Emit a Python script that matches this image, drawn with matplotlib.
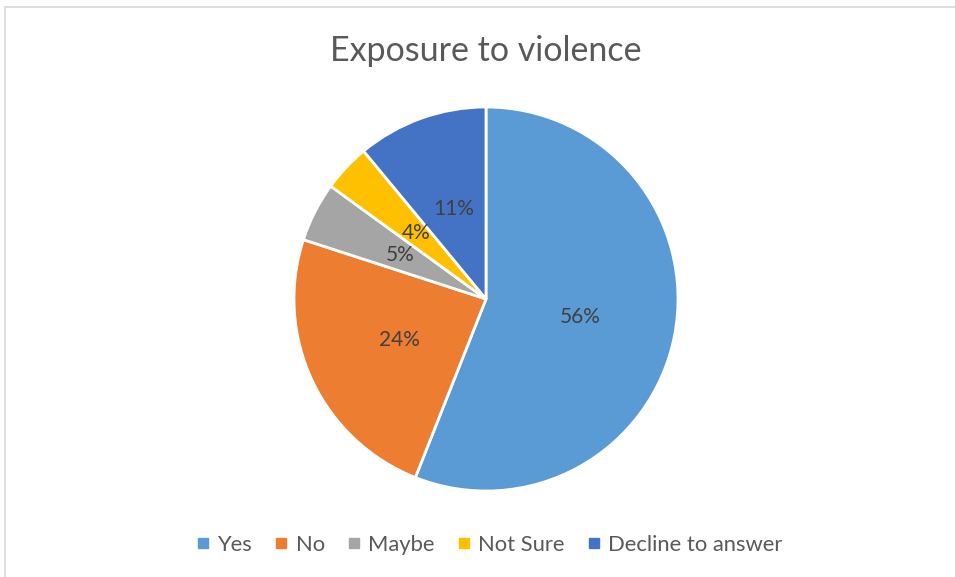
import matplotlib.pyplot as plt
from matplotlib.lines import Line2D
from matplotlib.patches import Rectangle

# data
labels = ["Yes", "No", "Maybe", "Not Sure", "Decline to answer"]
values = [56, 24, 5, 4, 11]
colors = ["#5B9BD5", "#ED7D31", "#A5A5A5", "#FFC000", "#4472C4"]
title = "Exposure to violence"

plt.rcParams['font.family'] = ['Lato', 'DejaVu Sans']

W, H = 955, 577
fig = plt.figure(figsize=(W / 100, H / 100), dpi=100)

# light chart border
fig.add_artist(Rectangle((5 / W, -0.1), 1.2, 1 - 7 / H + 0.1, transform=fig.transFigure,
                         fill=False, edgecolor="#D9D9D9", linewidth=1.2))

# pie centred at (486, 299) px with radius 192 px
cx, cy, r = 486, 299, 192
ax = fig.add_axes([(cx - r) / W, (H - cy - r) / H, 2 * r / W, 2 * r / H])
wedges, texts, autotexts = ax.pie(
    values, colors=colors, startangle=90, counterclock=False,
    autopct="%d%%", pctdistance=0.5, radius=1,
    wedgeprops=dict(edgecolor="white", linewidth=2),
    textprops=dict(color="#404040", fontsize=15))
ax.set_xlim(-1, 1)
ax.set_ylim(-1, 1)
ax.set_aspect("auto")
ax.axis("off")

fig.text(cx / W, 1 - 51 / H, title, ha="center", va="center",
         fontsize=24.5, color="#595959")

handles = [Line2D([], [], marker="s", linestyle="none", markersize=6.5,
                  markerfacecolor=c, markeredgecolor=c) for c in colors]
fig.legend(handles, labels, loc="center", bbox_to_anchor=(489 / W, 1 - 545 / H),
           ncol=5, frameon=False, fontsize=15.8, labelcolor="#595959",
           handletextpad=0.3, columnspacing=0.98, handlelength=0.7)

fig.savefig("out.png", dpi=100)
